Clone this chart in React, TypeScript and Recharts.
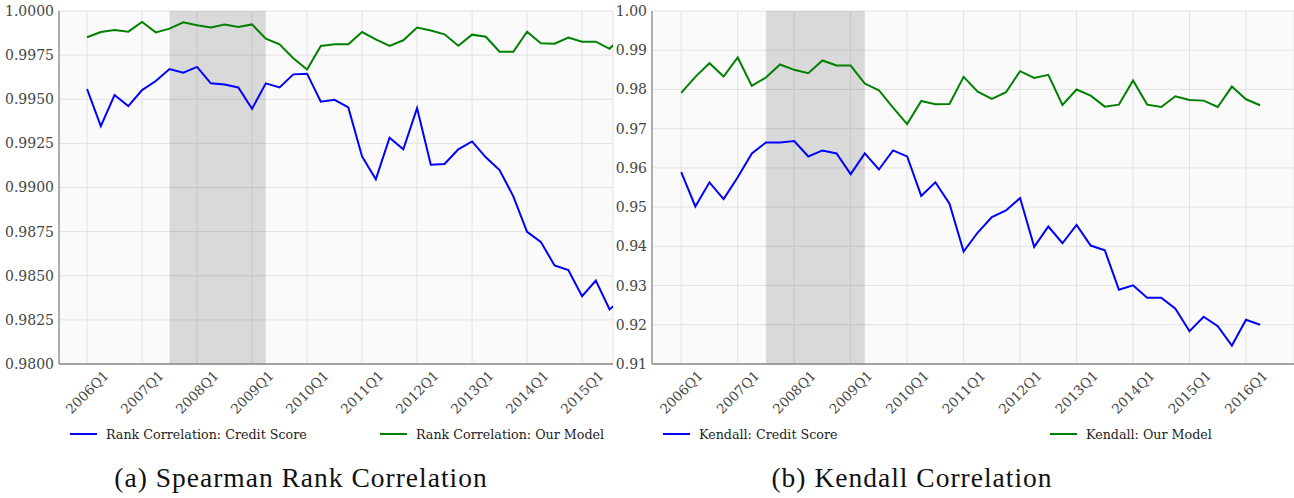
import {
  LineChart,
  Line,
  XAxis,
  YAxis,
  CartesianGrid,
  ReferenceArea,
} from "recharts";

// quarter index 0 = 2006Q1
const yearTicks = [0, 4, 8, 12, 16, 20, 24, 28, 32, 36, 40];
const yearLabels = [
  "2006Q1", "2007Q1", "2008Q1", "2009Q1", "2010Q1", "2011Q1",
  "2012Q1", "2013Q1", "2014Q1", "2015Q1", "2016Q1",
];

// crisis shading, 2007Q3 .. 2009Q2
const crisisStart = 6;
const crisisEnd = 13;

// (a) Spearman rank correlation
const spearmanCredit = [
  0.99558, 0.99348, 0.99524, 0.99461, 0.99552, 0.99603, 0.99671, 0.9965,
  0.99683, 0.9959, 0.99584, 0.99567, 0.99446, 0.9959, 0.99567, 0.99641,
  0.99645, 0.99486, 0.99497, 0.99454, 0.99176, 0.99046, 0.99282, 0.99216,
  0.9945, 0.99129, 0.99133, 0.99216, 0.99261, 0.99171, 0.99099, 0.9895,
  0.98749, 0.98692, 0.98558, 0.98532, 0.98384, 0.98473, 0.98309, 0.98377,
];
const spearmanModel = [
  0.99851, 0.99881, 0.99892, 0.99883, 0.99938, 0.99879, 0.999, 0.99936,
  0.99919, 0.99906, 0.99924, 0.99909, 0.99924, 0.99843, 0.99811, 0.99732,
  0.99669, 0.99802, 0.99811, 0.99811, 0.99881, 0.99839, 0.99802, 0.99834,
  0.99906, 0.9989, 0.99868, 0.99803, 0.99866, 0.99854, 0.99769, 0.99769,
  0.99883, 0.99817, 0.99815, 0.99849, 0.99826, 0.99826, 0.99786, 0.99864,
];
const spearmanTicks = [0.98, 0.9825, 0.985, 0.9875, 0.99, 0.9925, 0.995, 0.9975, 1.0];

// (b) Kendall correlation
const kendallCredit = [
  0.95891, 0.95017, 0.95631, 0.95205, 0.95763, 0.96368, 0.9665, 0.9665,
  0.96684, 0.96292, 0.96445, 0.96368, 0.9584, 0.96368, 0.95959, 0.96445,
  0.96292, 0.95286, 0.95633, 0.95085, 0.93866, 0.94352, 0.94744, 0.94915,
  0.9523, 0.93986, 0.94506, 0.94079, 0.94548, 0.9402, 0.939, 0.92894,
  0.93005, 0.9269, 0.9269, 0.92408, 0.91837, 0.92204, 0.91965, 0.91471,
  0.92127, 0.92001,
];
const kendallModel = [
  0.97911, 0.9832, 0.9867, 0.98329, 0.98815, 0.9809, 0.98303, 0.98636,
  0.985, 0.98414, 0.98738, 0.9861, 0.9861, 0.9815, 0.9798, 0.97536,
  0.97118, 0.97707, 0.97625, 0.9763, 0.9832, 0.97945, 0.97758, 0.97928,
  0.98465, 0.98295, 0.98372, 0.97604, 0.97997, 0.97843, 0.97562, 0.97613,
  0.98227, 0.97613, 0.97553, 0.97826, 0.97732, 0.97715, 0.97553, 0.98073,
  0.97749, 0.97596,
];
const kendallTicks = [0.91, 0.92, 0.93, 0.94, 0.95, 0.96, 0.97, 0.98, 0.99, 1.0];

const BLUE = "#0000ff";
const GREEN = "#008000";
const FONT = "'DejaVu Serif', serif";
const TICK_COLOR = "#444444";

const toRows = (credit: number[], model: number[]) =>
  credit.map((c, i) => ({ i, credit: c, model: model[i] }));

function QuarterTick({ x, y, payload }: any) {
  const idx = yearTicks.indexOf(payload.value);
  const cy = y + 28;
  return (
    <text
      x={x}
      y={cy}
      textAnchor="middle"
      dominantBaseline="central"
      transform={`rotate(-45 ${x} ${cy})`}
      fill={TICK_COLOR}
      fontSize={13.5}
      fontFamily={FONT}
    >
      {yearLabels[idx]}
    </text>
  );
}

interface PanelProps {
  rows: Array<{ i: number; credit: number; model: number }>;
  xDomain: [number, number];
  yTicks: number[];
  digits: number;
  width: number;
  yAxisWidth: number;
  marginRight: number;
}

function Panel({ rows, xDomain, yTicks, digits, width, yAxisWidth, marginRight }: PanelProps) {
  const ticks = yearTicks.filter((t) => t <= xDomain[1]);
  return (
    <LineChart
      width={width}
      height={420}
      data={rows}
      margin={{ top: 11, right: marginRight, bottom: 0, left: 0 }}
    >
      <CartesianGrid fill="#fafafa" stroke="#e2e2e2" strokeWidth={1} />
      <ReferenceArea
        x1={crisisStart}
        x2={crisisEnd}
        fill="#000000"
        fillOpacity={0.13}
        stroke="none"
        ifOverflow="hidden"
      />
      <XAxis
        type="number"
        dataKey="i"
        domain={xDomain}
        ticks={ticks}
        allowDataOverflow
        height={56}
        tickLine={false}
        tickSize={0}
        tickMargin={0}
        axisLine={{ stroke: "#8a8a8a", strokeWidth: 1.3 }}
        tick={<QuarterTick />}
        interval={0}
      />
      <YAxis
        type="number"
        domain={[yTicks[0], yTicks[yTicks.length - 1]]}
        ticks={yTicks}
        allowDataOverflow
        width={yAxisWidth}
        tickLine={false}
        tickSize={0}
        tickMargin={5}
        axisLine={{ stroke: "#8a8a8a", strokeWidth: 1.3 }}
        tick={{ fill: TICK_COLOR, fontSize: 14, fontFamily: FONT }}
        tickFormatter={(v: number) => v.toFixed(digits)}
        interval={0}
      />
      <Line
        type="linear"
        dataKey="credit"
        stroke={BLUE}
        strokeWidth={2}
        dot={false}
        isAnimationActive={false}
      />
      <Line
        type="linear"
        dataKey="model"
        stroke={GREEN}
        strokeWidth={2}
        dot={false}
        isAnimationActive={false}
      />
    </LineChart>
  );
}

function LegendItem({ left, color, label }: { left: number; color: string; label: string }) {
  return (
    <div style={{ position: "absolute", left, top: 425, height: 18, display: "flex", alignItems: "center" }}>
      <div style={{ width: 27, height: 2, background: color }} />
      <span
        style={{
          marginLeft: 9,
          fontFamily: FONT,
          fontSize: 12.7,
          color: "#222222",
          whiteSpace: "nowrap",
        }}
      >
        {label}
      </span>
    </div>
  );
}

function Caption({ center, text }: { center: number; text: string }) {
  return (
    <div
      style={{
        position: "absolute",
        left: center - 250,
        width: 500,
        top: 462,
        textAlign: "center",
        fontFamily: "'Liberation Serif', serif",
        fontSize: 27.5,
        letterSpacing: 1,
        color: "#111111",
        whiteSpace: "nowrap",
      }}
    >
      {text}
    </div>
  );
}

export default function App() {
  return (
    <div
      style={{
        position: "absolute",
        left: 0,
        top: 0,
        width: 1294,
        height: 498,
        background: "#ffffff",
        overflow: "hidden",
      }}
    >
      <div style={{ position: "absolute", left: 0, top: 0 }}>
        <Panel
          rows={toRows(spearmanCredit, spearmanModel)}
          xDomain={[-2.04, 38.25]}
          yTicks={spearmanTicks}
          digits={4}
          width={620}
          yAxisWidth={59}
          marginRight={7}
        />
      </div>
      <div style={{ position: "absolute", left: 600, top: 0 }}>
        <Panel
          rows={toRows(kendallCredit, kendallModel)}
          xDomain={[-2.07, 43.4]}
          yTicks={kendallTicks}
          digits={2}
          width={694}
          yAxisWidth={52}
          marginRight={0}
        />
      </div>
      <LegendItem left={70} color={BLUE} label="Rank Correlation: Credit Score" />
      <LegendItem left={380} color={GREEN} label="Rank Correlation: Our Model" />
      <LegendItem left={663} color={BLUE} label="Kendall: Credit Score" />
      <LegendItem left={1050} color={GREEN} label="Kendall: Our Model" />
      <Caption center={301} text="(a) Spearman Rank Correlation" />
      <Caption center={912} text="(b) Kendall Correlation" />
    </div>
  );
}
